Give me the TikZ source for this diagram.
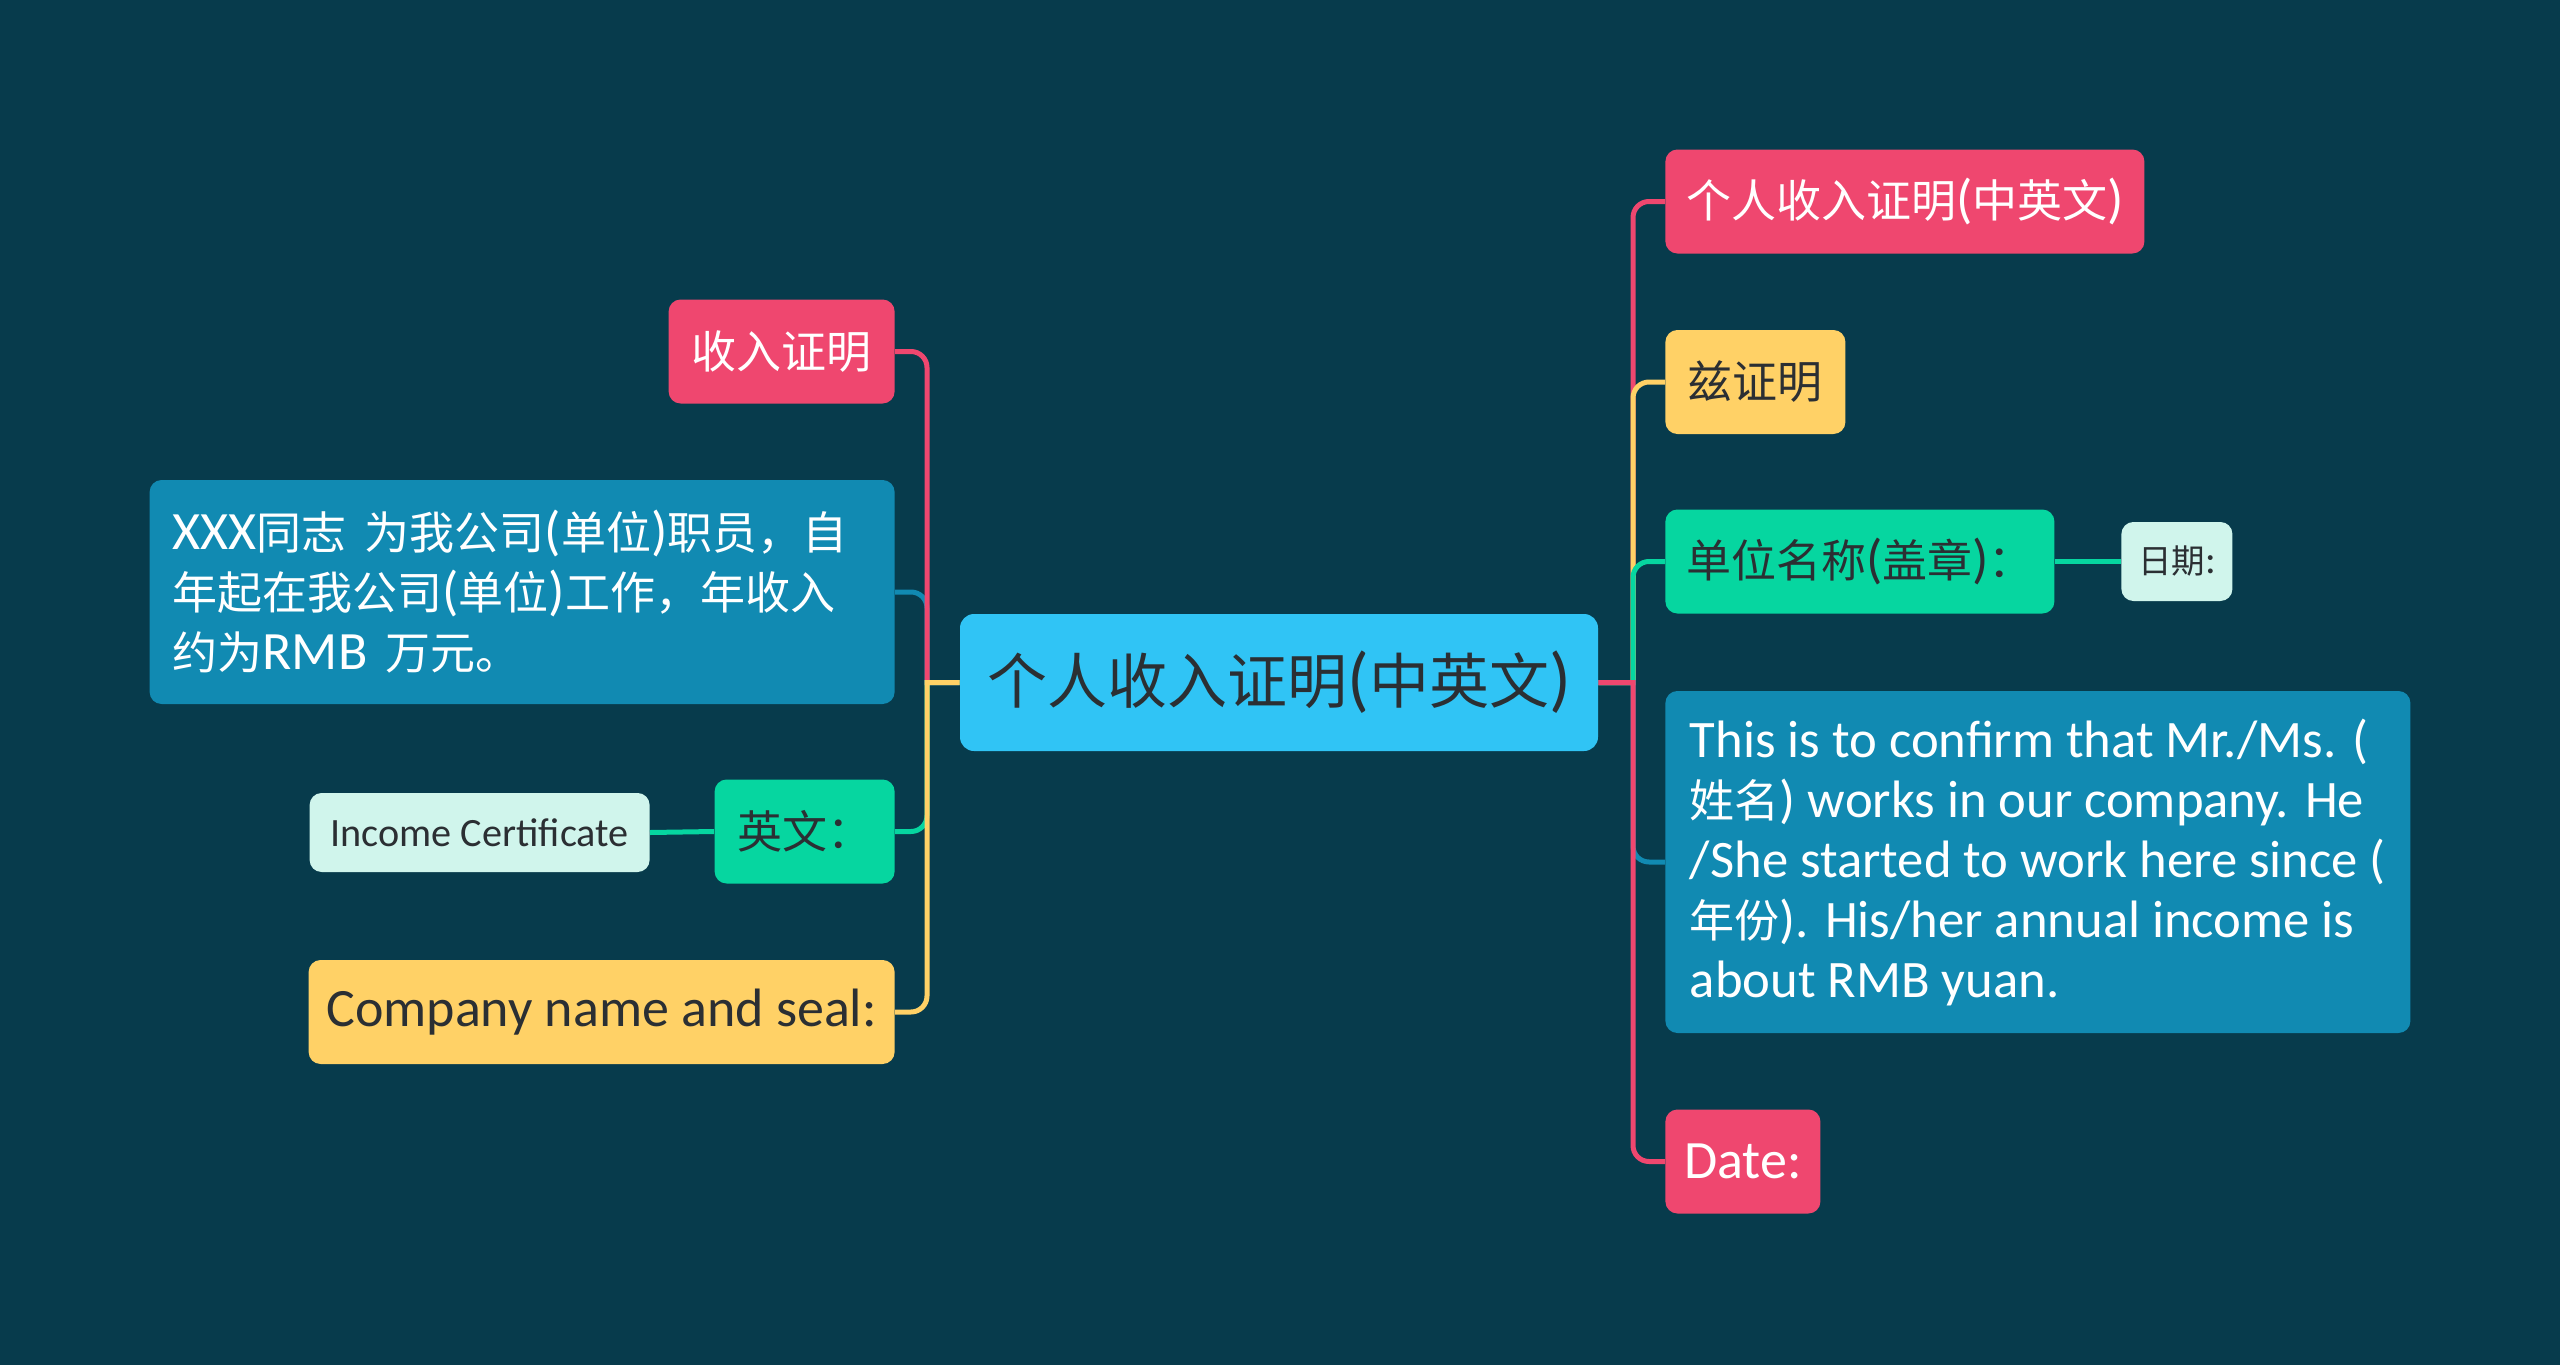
\documentclass[tikz,border=0pt]{standalone}
\usepackage{fontspec}
\setmainfont{Carlito}[Scale=1.2]
\newfontfamily\cjk{Noto Sans CJK SC}
\newfontfamily\narrowlatin{Carlito}[Scale=1.17]
\newcommand\zh[1]{{\cjk #1}}
\definecolor{bgteal}{HTML}{073B4C}
\definecolor{rosered}{HTML}{EF476F}
\definecolor{sunyellow}{HTML}{FFD166}
\definecolor{mintgreen}{HTML}{06D6A0}
\definecolor{oceanblue}{HTML}{118AB2}
\definecolor{skyblue}{HTML}{30C4F5}
\definecolor{palemint}{HTML}{D0F5EC}
\definecolor{inkdark}{HTML}{2B2F33}

\begin{document}
\begin{tikzpicture}[x=0.5pt,y=0.5pt,yscale=-1,
    topic/.style={rounded corners=6pt,inner xsep=8pt,inner ysep=0pt,minimum height=52pt,font=\fontsize{22.5}{30}\selectfont},
    subtopic/.style={rounded corners=6pt,inner xsep=6pt,inner ysep=0pt,minimum height=39.5pt,fill=palemint,text=inkdark,font=\fontsize{16.75}{22}\selectfont},
    link/.style={line width=2.5pt,draw=#1},
]
        %background
        \fill[bgteal] (0,0) rectangle (2560,1365);
        \useasboundingbox (0,0) rectangle (2560,1365);

        %central topic
        \node (c) [rounded corners=7pt,fill=skyblue,text=inkdark,minimum width=319pt,minimum height=68.5pt,font=\fontsize{30}{36}\selectfont] at (1279,682.5) {\zh{个人收入证明}(\zh{中英文})};
        \coordinate (jr) at (1633,682.5);
        \coordinate (jl) at (927,682.5);

        %right side
        \node (r1) [topic,anchor=west,fill=rosered,text=white,minimum width=239.5pt] at (1665,201.5) {\zh{个人收入证明}(\zh{中英文})};
        \node (r2) [topic,anchor=west,fill=sunyellow,text=inkdark,minimum width=90pt] at (1665,382) {\zh{兹证明}};
        \node (r3) [topic,anchor=west,fill=mintgreen,text=inkdark,minimum width=194.5pt] at (1665,561.5) {\zh{单位名称}(\zh{盖章})\zh{：}};
        \node (r3a) [subtopic,anchor=west,minimum width=55.5pt] at (2121,561.5) {\zh{日期}:};
        \node (r4) [topic,anchor=west,fill=oceanblue,text=white,minimum width=372.5pt,minimum height=171pt,inner xsep=4pt,align=left,font=\fontsize{22.5}{30}\narrowlatin] at (1665,862)
            {This is to confirm that Mr./Ms. (\\ \zh{姓名}) works in our company. He\\ /She started to work here since (\\ \zh{年份}). His/her annual income is\\ about RMB yuan.};
        \node (r5) [topic,anchor=west,fill=rosered,text=white,minimum width=77.5pt] at (1665,1161.5) {Date:};

        %left side
        \node (l1) [topic,anchor=east,fill=rosered,text=white,minimum width=113pt] at (895,351.5) {\zh{收入证明}};
        \node (l2) [topic,anchor=east,fill=oceanblue,text=white,minimum width=372.5pt,minimum height=112pt,inner xsep=11.5pt,text width=349.5pt,align=left] at (895,592)
            {XXX\zh{同志} \zh{为我公司}(\zh{单位})\zh{职员，自}\\ \zh{年起在我公司}(\zh{单位})\zh{工作，年收入}\\ \zh{约为}RMB \zh{万元。}};
        \node (l3) [topic,anchor=east,fill=mintgreen,text=inkdark,minimum width=90pt] at (895,831.5) {\zh{英文：}};
        \node (l3a) [subtopic,anchor=east,minimum width=170pt] at (650,832.5) {Income Certificate};
        \node (l4) [topic,anchor=east,fill=sunyellow,text=inkdark,minimum width=293pt] at (895,1012) {Company name and seal:};

        %connectors right
        \draw[link=rosered] (c.east) -- (jr) [rounded corners=8pt] |- (r1.west);
        \draw[link=sunyellow] (c.east) -- (jr) [rounded corners=8pt] |- (r2.west);
        \draw[link=mintgreen] (c.east) -- (jr) [rounded corners=8pt] |- (r3.west);
        \draw[link=oceanblue] (c.east) -- (jr) [rounded corners=8pt] |- (r4.west);
        \draw[link=rosered] (c.east) -- (jr) [rounded corners=8pt] |- (r5.west);
        \draw[link=mintgreen] (r3.east) -- (r3a.west);

        %connectors left
        \draw[link=oceanblue] (c.west) -- (jl) [rounded corners=8pt] |- (l2.east);
        \draw[link=rosered] (c.west) -- (jl) [rounded corners=8pt] |- (l1.east);
        \draw[link=mintgreen] (c.west) -- (jl) [rounded corners=8pt] |- (l3.east);
        \draw[link=sunyellow] (c.west) -- (jl) [rounded corners=8pt] |- (l4.east);
        \draw[link=mintgreen] (l3.west) -- (l3a.east);
\end{tikzpicture}
\end{document}
